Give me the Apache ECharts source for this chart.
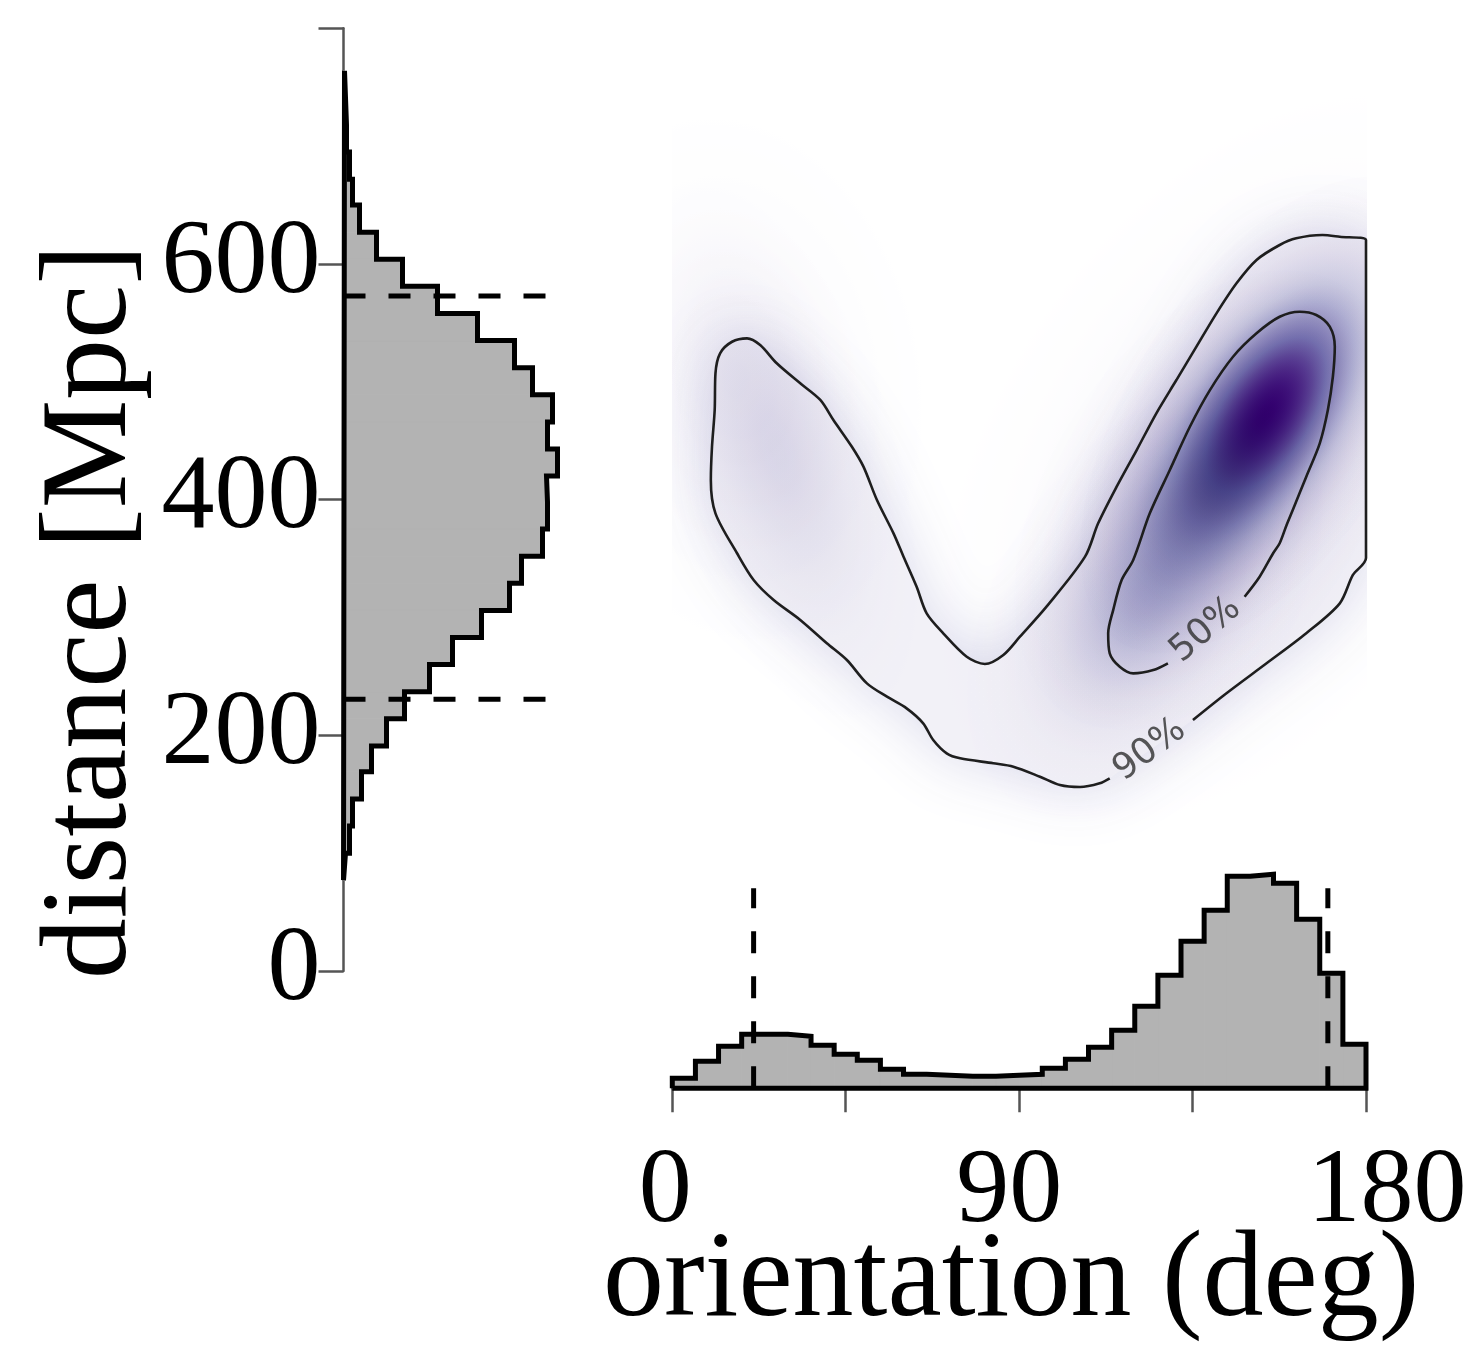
<!DOCTYPE html>
<html>
<head>
<meta charset="utf-8">
<script src="https://cdn.jsdelivr.net/npm/echarts@6/dist/echarts.min.js"></script>
<style>
  html, body { margin: 0; padding: 0; background: #fff; }
  #chart { width: 1481px; height: 1349px; }
</style>
</head>
<body>
<div id="chart"></div>
<script>
// Marginal distribution of distance (Mpc): bin edges and bar lengths
const distanceEdges = [77, 100, 123, 146, 169, 191, 214, 237, 260, 283, 306, 329, 352, 375, 398, 420,
  443, 466, 489, 512, 535, 558, 581, 604, 627, 650, 672, 695, 718, 741, 764];
const distanceCounts = [2, 6, 9, 18, 28, 43, 61, 86, 109, 138, 166, 178, 199, 204, 203, 214,
  204, 209, 189, 171, 134, 94, 59, 33, 16, 9, 6, 3, 2, 1];
const distanceBounds = [230.6, 572.8];
const distanceBoundLength = 204;

// Marginal distribution of orientation (deg)
const orientationEdges = [0, 6, 12, 18, 24, 30, 36, 42, 48, 54, 60, 66, 72, 78, 84, 90, 96, 102, 108,
  114, 120, 126, 132, 138, 144, 150, 156, 162, 168, 174, 180];
const orientationCounts = [10, 27, 42, 54, 54, 52, 43, 34, 28, 19, 14, 13, 12, 12, 13, 14, 20, 29, 41,
  58, 82, 113, 147, 178, 212, 214, 205, 169, 115, 44];
const orientationBounds = [21.1, 170.1];
const orientationBoundLength = 200;

// Tick labels
const distanceTicks = [0, 200, 400, 600];
const orientationTicks = [0, 90, 180];

// Joint density: smooth components [centre deg, centre Mpc, 1-sigma tip deg, tip Mpc, width ratio, peak level]
const densityBlobs = [
  [16.33, 501.5, 21.28, 409.6, 0.70, 0.06],
  [147.23, 433.6, 168.40, 540.4, 0.60, 0.12],
  [27.48, 440.4, 35.49, 359.7, 0.42, 0.16],
  [122.60, 314.8, 133.90, 371.8, 0.60, 0.33],
  [138.15, 399.7, 150.16, 460.2, 0.61, 0.50],
  [153.97, 471.8, 166.67, 535.9, 0.50, 1.00]
];
// Level of the density on the 90% boundary
const outerLevel = 0.1;

// Credible-region contours [deg, Mpc]
const contour90 = [
  [135.1, 213.0], [143.8, 235.7], [154.2, 261.1], [164.5, 286.6], [173.2, 312.0], [176.6, 336.1],
  [180.0, 350.5], [180.0, 620.3], [173.2, 623.1], [168.7, 624.6], [161.9, 621.8], [157.6, 616.1],
  [151.6, 603.4], [146.4, 583.6], [141.2, 558.1], [136.0, 529.8], [130.8, 501.5], [125.6, 473.3],
  [120.5, 442.1], [115.3, 411.0], [110.5, 379.9], [107.1, 351.6], [97.1, 309.2], [90.2, 283.7],
  [85.9, 268.2], [81.1, 260.5], [76.4, 266.7], [70.3, 286.6], [66.0, 303.5], [63.4, 326.1],
  [60.0, 351.6], [57.4, 371.4], [53.1, 399.7], [49.6, 428.0], [46.6, 444.9], [41.8, 467.6],
  [38.4, 484.6], [33.2, 498.7], [27.1, 515.7], [22.8, 531.2], [19.4, 536.9], [15.5, 534.0],
  [12.4, 524.2], [11.2, 507.2], [11.0, 476.1], [10.3, 444.9], [10.0, 416.7], [11.2, 388.4],
  [16.8, 354.5], [21.1, 331.8], [26.3, 314.8], [33.2, 297.9], [40.1, 278.1], [45.3, 263.9],
  [50.5, 244.1], [55.7, 232.8], [60.8, 222.9], [65.1, 210.2], [67.7, 196.0], [71.2, 184.7],
  [74.7, 180.5], [83.3, 176.3], [88.5, 173.4], [95.4, 164.9], [100.6, 157.8], [105.8, 156.1],
  [110.9, 159.3], [113.5, 163.5]
];
const contour50 = [
  [148.5, 317.6], [152.4, 334.6], [155.9, 354.5], [157.6, 363.0], [159.4, 378.5], [161.0, 391.2],
  [164.5, 419.5], [168.0, 447.8], [170.1, 476.1], [171.4, 504.3], [171.9, 529.8], [170.6, 546.8],
  [167.1, 556.7], [162.8, 559.5], [157.6, 555.2], [151.6, 541.2], [145.5, 521.3], [139.5, 493.0],
  [134.3, 461.9], [129.1, 425.2], [123.9, 388.4], [119.6, 348.8], [116.6, 331.8], [114.4, 306.3],
  [113.1, 286.6], [113.5, 269.6], [116.1, 258.2], [119.6, 252.6], [124.8, 255.4], [128.6, 261.1]
];
const contourLabels = [
  { name: '90%', value: [123.9, 187.5], angle: 37 },
  { name: '50%', value: [138.4, 289.4], angle: 41 }
];

// Sequential purple colour scale (white at zero density)
const purpleScale = [[255,255,255],[239,237,245],[218,218,235],[188,189,220],[158,154,200],
  [128,125,186],[106,81,163],[84,39,143],[63,0,125]];
function purpleAt(level) {
  const t = Math.max(0, Math.min(1, level)) * 8;
  const i = Math.min(7, Math.floor(t));
  const f = t - i;
  const a = purpleScale[i], b = purpleScale[i + 1];
  return a.map((v, k) => Math.round(v + (b[k] - v) * f));
}
const purpleCss = level => 'rgb(' + purpleAt(level).join(',') + ')';

const SERIF = 'Liberation Serif';
const GREY_AXIS = '#555';

// Step outlines built from the bins
const distanceOutline = [[0, distanceEdges[0]]];
distanceCounts.forEach((n, i) => distanceOutline.push([n, distanceEdges[i]], [n, distanceEdges[i + 1]]));
distanceOutline.push([0, distanceEdges[distanceEdges.length - 1]], [0, distanceEdges[0]]);

const orientationOutline = [[orientationEdges[0], 0]];
orientationCounts.forEach((n, i) => orientationOutline.push([orientationEdges[i], n], [orientationEdges[i + 1], n]));
orientationOutline.push([orientationEdges[orientationEdges.length - 1], 0], [orientationEdges[0], 0]);

const distanceBins = distanceCounts.map((n, i) => [distanceEdges[i], distanceEdges[i + 1], n]);
const orientationBins = orientationCounts.map((n, i) => [orientationEdges[i], orientationEdges[i + 1], n]);

function renderDistanceBin(params, api) {
  const p0 = api.coord([0, api.value(1)]);
  const p1 = api.coord([api.value(2), api.value(0)]);
  return { type: 'rect', silent: true,
    shape: { x: p0[0], y: p0[1], width: p1[0] - p0[0], height: p1[1] - p0[1] },
    style: { fill: '#b3b3b3', stroke: '#b3b3b3', lineWidth: 1 } };
}
function renderOrientationBin(params, api) {
  const p0 = api.coord([api.value(0), api.value(2)]);
  const p1 = api.coord([api.value(1), 0]);
  return { type: 'rect', silent: true,
    shape: { x: p0[0], y: p0[1], width: p1[0] - p0[0], height: p1[1] - p0[1] },
    style: { fill: '#b3b3b3', stroke: '#b3b3b3', lineWidth: 1 } };
}
// faint envelope: the 90% region filled at its boundary level, with a soft fall-off outside
function renderEnvelope(params, api) {
  const pts = contour90.map(p => api.coord(p));
  return { type: 'polygon', silent: true,
    shape: { points: pts },
    style: { fill: purpleCss(outerLevel), shadowBlur: 64, shadowColor: 'rgba(214,214,233,0.95)' } };
}
// one smooth component; the series multiplies its colours so overlapping components deepen together
function renderBlob(params, api) {
  const c = api.coord([api.value(0), api.value(1)]);
  const t = api.coord([api.value(2), api.value(3)]);
  const ratio = api.value(4), peak = api.value(5);
  const dx = t[0] - c[0], dy = t[1] - c[1];
  const sigma = Math.hypot(dx, dy);
  const stops = [];
  for (let i = 0; i <= 40; i++) {
    const s = i / 40;
    stops.push({ offset: s, color: purpleCss(peak * Math.exp(-(3 * s) * (3 * s) / 2)) });
  }
  return { type: 'circle', silent: true,
    shape: { cx: 0, cy: 0, r: 3 * sigma },
    x: c[0], y: c[1], scaleX: 1, scaleY: ratio, rotation: -Math.atan2(dy, dx),
    style: { fill: { type: 'radial', x: 0.5, y: 0.5, r: 0.5, colorStops: stops } } };
}

const dashStyle = { color: '#000', width: 5, type: [22, 23] };

const option = {
  backgroundColor: '#fff',
  animation: false,
  grid: [
    { left: 343.5, top: 28.3, width: 215, height: 942.7, outerBoundsMode: 'none' },
    { left: 672.3, top: 873.3, width: 693.7, height: 215, outerBoundsMode: 'none' },
    { left: 672.3, top: 28.3, width: 693.7, height: 942.7, outerBoundsMode: 'none' }
  ],
  xAxis: [
    { gridIndex: 0, type: 'value', min: 0, max: 215, show: false },
    { gridIndex: 1, type: 'value', min: 0, max: 180, interval: 45,
      axisLine: { lineStyle: { color: GREY_AXIS, width: 2.5 } },
      axisTick: { length: 24, lineStyle: { color: GREY_AXIS, width: 2.5 } },
      splitLine: { show: false },
      axisLabel: { margin: 52, color: '#000', fontFamily: SERIF, fontSize: 106,
        formatter: v => v === orientationTicks[0] ? '{l|' + v + '}' : v === orientationTicks[1] ? '{m|' + v + '}' : v === orientationTicks[2] ? '{r|' + v + '}' : '',
        rich: {
          l: { fontFamily: SERIF, fontSize: 106, color: '#000', padding: [0, 14, 0, 0] },
          m: { fontFamily: SERIF, fontSize: 106, color: '#000', padding: [0, 20, 0, 0] },
          r: { fontFamily: SERIF, fontSize: 106, color: '#000', padding: [0, 0, 0, 42] }
        } },
      name: 'orientation (deg)', nameLocation: 'middle', nameGap: 134, nameMoveOverlap: false,
      nameTextStyle: { fontFamily: SERIF, fontSize: 122, color: '#000', padding: [0, 16, 0, 0] } },
    { gridIndex: 2, type: 'value', min: 0, max: 180, show: false }
  ],
  yAxis: [
    { gridIndex: 0, type: 'value', min: 0, max: 800, interval: 200,
      axisLine: { show: true, lineStyle: { color: GREY_AXIS, width: 2.5 } },
      axisTick: { show: true, length: 25, lineStyle: { color: GREY_AXIS, width: 2.5 } },
      splitLine: { show: false },
      axisLabel: { margin: 23, color: '#000', fontFamily: SERIF, fontSize: 106,
        formatter: v => distanceTicks.indexOf(v) >= 0 ? String(v) : '' },
      name: 'distance [Mpc]', nameLocation: 'middle', nameRotate: 90, nameGap: 190, nameMoveOverlap: false,
      nameTextStyle: { fontFamily: SERIF, fontSize: 122, color: '#000', padding: [0, 224, 0, 0] } },
    { gridIndex: 1, type: 'value', min: 0, max: 215, show: false },
    { gridIndex: 2, type: 'value', min: 0, max: 800, show: false }
  ],
  series: [
    // joint density
    { type: 'custom', xAxisIndex: 2, yAxisIndex: 2, renderItem: renderEnvelope, data: [[0, 0]],
      clip: true, silent: true, z: 1 },
    { type: 'custom', xAxisIndex: 2, yAxisIndex: 2, renderItem: renderBlob, data: densityBlobs,
      clip: true, silent: true, z: 1, blendMode: 'multiply', encode: { x: 0, y: 1 } },
    { type: 'line', xAxisIndex: 2, yAxisIndex: 2, data: contour90, showSymbol: false, smooth: 0.3,
      clip: false, silent: true, z: 3, lineStyle: { color: '#1e1e1e', width: 2.6 } },
    { type: 'line', xAxisIndex: 2, yAxisIndex: 2, data: contour50, showSymbol: false, smooth: 0.3,
      clip: false, silent: true, z: 3, lineStyle: { color: '#1e1e1e', width: 2.6 } },
    { type: 'scatter', xAxisIndex: 2, yAxisIndex: 2, symbolSize: 0, silent: true, z: 4,
      data: contourLabels.map(d => ({ name: d.name, value: d.value,
        label: { show: true, position: 'inside', formatter: '{b}', rotate: d.angle,
          fontFamily: 'DejaVu Sans', fontSize: 36, color: '#2e2e2e' } })) },
    // distance marginal
    { type: 'custom', xAxisIndex: 0, yAxisIndex: 0, renderItem: renderDistanceBin, data: distanceBins,
      encode: { x: 2, y: [0, 1] }, silent: true, z: 2 },
    { type: 'line', xAxisIndex: 0, yAxisIndex: 0, data: distanceOutline, showSymbol: false, clip: false,
      silent: true, z: 3, lineStyle: { color: '#000', width: 5, join: 'miter' } },
    ...distanceBounds.map(d => ({ type: 'line', xAxisIndex: 0, yAxisIndex: 0, showSymbol: false, clip: false,
      silent: true, z: 4, data: [[0, d], [distanceBoundLength, d]], lineStyle: dashStyle })),
    // orientation marginal
    { type: 'custom', xAxisIndex: 1, yAxisIndex: 1, renderItem: renderOrientationBin, data: orientationBins,
      encode: { x: [0, 1], y: 2 }, silent: true, z: 2 },
    { type: 'line', xAxisIndex: 1, yAxisIndex: 1, data: orientationOutline, showSymbol: false, clip: false,
      silent: true, z: 3, lineStyle: { color: '#000', width: 5, join: 'miter' } },
    ...orientationBounds.map(d => ({ type: 'line', xAxisIndex: 1, yAxisIndex: 1, showSymbol: false, clip: false,
      silent: true, z: 4, data: [[d, 0], [d, orientationBoundLength]], lineStyle: dashStyle }))
  ]
};

const chart = echarts.init(document.getElementById('chart'), null, { renderer: 'canvas' });
chart.setOption(option);
</script>
</body>
</html>
